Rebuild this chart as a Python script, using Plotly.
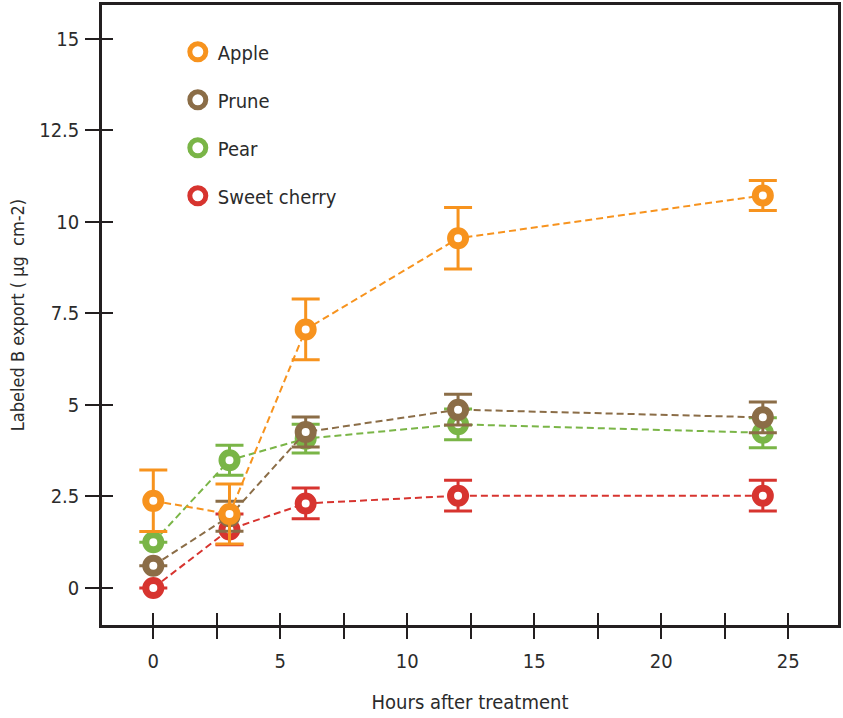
import plotly.graph_objects as go

hours = [0, 3, 6, 12, 24]
series_names = ["Apple", "Prune", "Pear", "Sweet cherry"]
apple = [2.38, 2.02, 7.06, 9.55, 10.72]
apple_err = [0.84, 0.82, 0.83, 0.84, 0.41]
prune = [0.61, 1.96, 4.26, 4.87, 4.66]
prune_err = [0.0, 0.41, 0.41, 0.42, 0.42]
pear = [1.25, 3.49, 4.08, 4.47, 4.24]
pear_err = [0.0, 0.41, 0.39, 0.42, 0.41]
cherry = [0.0, 1.6, 2.31, 2.52, 2.52]
cherry_err = [0.0, 0.42, 0.42, 0.42, 0.42]

colors = {"Apple": "#F7931E", "Prune": "#8B6D47", "Pear": "#7AB547", "Sweet cherry": "#D7342F"}
data = {"Apple": (apple, apple_err), "Prune": (prune, prune_err),
        "Pear": (pear, pear_err), "Sweet cherry": (cherry, cherry_err)}

FONT = "DejaVu Sans Condensed, Roboto, sans-serif"
TXT = "#2b2b2b"

fig = go.Figure()
for name in ["Sweet cherry", "Pear", "Prune", "Apple"]:
    vals, errs = data[name]
    c = colors[name]
    fig.add_trace(go.Scatter(
        x=hours, y=vals, mode="lines+markers", name=name, showlegend=False,
        line=dict(color=c, width=2, dash="7px,4px"),
        marker=dict(symbol="circle", size=15, color="white", line=dict(color=c, width=7)),
        error_y=dict(type="data", array=errs, visible=True, color=c, thickness=3, width=14),
    ))

for i, name in enumerate(series_names):
    c = colors[name]
    fig.add_trace(go.Scatter(
        x=[None], y=[None], mode="markers", name=name, legendgroup=str(i),
        marker=dict(symbol="circle", size=16, color="white", line=dict(color=c, width=7)),
    ))

# overlay axes for inner parts of ticks
fig.add_trace(go.Scatter(x=[None], y=[None], xaxis="x2", yaxis="y2", showlegend=False, hoverinfo="skip"))

xr = [-2.02, 26.96]
yr = [-1.01, 15.92]

fig.update_layout(
    width=843, height=718,
    margin=dict(l=102, r=2, t=4, b=93),
    paper_bgcolor="white", plot_bgcolor="white",
    font=dict(family=FONT, color=TXT, size=20),
    xaxis=dict(range=xr, showgrid=False, zeroline=False, showline=True, linecolor="#231f20",
               linewidth=2.5, mirror=True, ticks="outside", ticklen=11, tickwidth=2, tickcolor="#231f20",
               tickvals=[0, 5, 10, 15, 20, 25], ticktext=["0", "5", "10", "15", "20", "25"],
               minor=dict(tickvals=[2.5, 7.5, 12.5, 17.5, 22.5], ticks="outside", ticklen=11,
                          tickwidth=2, tickcolor="#231f20"),
               tickfont=dict(size=20, color=TXT), ticklabelstandoff=5,
               title=dict(text="Hours after treatment", font=dict(size=20, color=TXT), standoff=24)),
    yaxis=dict(range=yr, showgrid=False, zeroline=False, showline=True, linecolor="#231f20",
               linewidth=2.5, mirror=True, ticks="outside", ticklen=14, tickwidth=2, tickcolor="#231f20",
               tickvals=[0, 2.5, 5, 7.5, 10, 12.5, 15],
               ticktext=["0", "2.5", "5", "7.5", "10", "12.5", "15"],
               tickfont=dict(size=20, color=TXT), ticklabelstandoff=2,
               title=dict(text="Labeled B export (\u00a0\u03bcg\u00a0\u00a0cm-2)", font=dict(size=18, color=TXT), standoff=10)),
    xaxis2=dict(range=xr, overlaying="x", anchor="y", side="bottom", showgrid=False, zeroline=False,
                showline=False, ticks="inside", ticklen=12, tickwidth=2, tickcolor="#231f20",
                tickvals=[0, 2.5, 5, 7.5, 10, 12.5, 15, 17.5, 20, 22.5, 25], showticklabels=False),
    yaxis2=dict(range=yr, overlaying="y", anchor="x", side="left", showgrid=False, zeroline=False,
                showline=False, ticks="inside", ticklen=11, tickwidth=2, tickcolor="#231f20",
                tickvals=[0, 2.5, 5, 7.5, 10, 12.5, 15], showticklabels=False),
    legend=dict(x=0.103, y=0.956, xanchor="left", yanchor="top", bgcolor="rgba(0,0,0,0)",
                font=dict(size=20, color=TXT), tracegroupgap=19, itemsizing="trace"),
)

fig.write_html("out.html", config={"displayModeBar": False},
               post_script="document.body.style.margin='0';")
